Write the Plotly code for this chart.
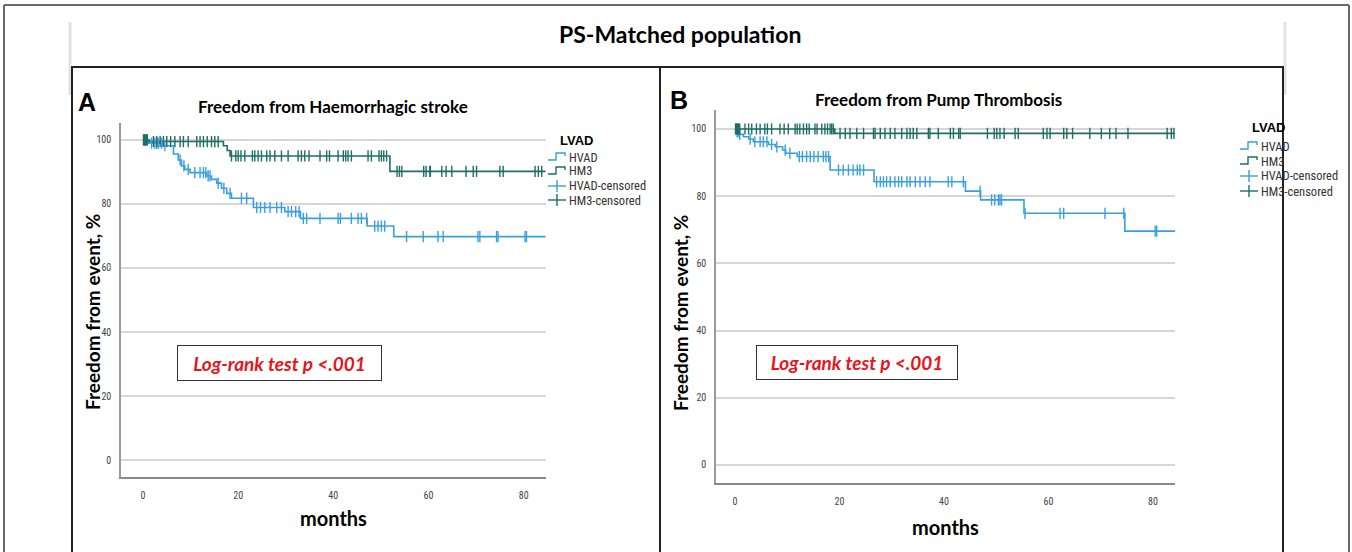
import numpy as np
import plotly.graph_objects as go

W, H = 1352, 552

# ---------------- data ----------------
# Panel A: Freedom from Haemorrhagic stroke
a_hvad_t = [0, 1.2, 4.0, 6.4, 7.4, 8.1, 8.8, 9.9, 13.4, 14.4, 15.5, 16.5, 17.6, 18.6, 23.2, 29.8, 33.1, 47.1, 52.7, 84.6]
a_hvad_s = [100, 99.0, 98.2, 95.6, 93.75, 91.9, 90.8, 89.8, 88.75, 87.7, 86.5, 84.9, 83.3, 81.8, 78.9, 77.6, 75.5, 73.1, 69.8, 69.8]
a_hm3_t = [0, 1.3, 16.9, 17.7, 18.3, 51.9, 84.6]
a_hm3_s = [100, 99.5, 98.2, 96.7, 95.0, 90.2, 90.2]
a_hvad_cens = [0.2, 0.5, 0.8, 1.8, 2.5, 2.9, 3.2, 3.9, 4.6, 7.8, 8.6, 9.5, 10.9, 12.0, 12.7, 13.2, 13.7, 14.1,
               15.8, 17.0, 18.3, 20.7, 21.8, 23.9, 24.7, 25.6, 26.7, 28.1, 29.1, 30.5, 31.2, 32.1, 32.8, 33.7,
               34.4, 37.2, 41.0, 41.5, 43.8, 45.2, 45.9, 47.0, 48.7, 49.4, 50.1, 50.8, 55.4, 58.9, 62.0, 63.1,
               70.4, 70.8, 74.3, 74.6, 80.3, 80.6]
a_hm3_cens = [0.1, 0.3, 0.5, 0.7, 0.9, 2.2, 2.9, 3.6, 4.3, 5.0, 5.8, 6.7, 7.8, 8.5, 9.5, 11.3, 12.0, 12.7, 13.5,
              14.4, 15.1, 15.8, 18.6, 19.5, 20.0, 20.6, 21.4, 23.0, 23.5, 24.2, 24.9, 26.0, 26.7, 27.7, 29.1,
              30.5, 32.6, 33.3, 34.0, 34.9, 37.2, 38.6, 39.2, 41.0, 42.1, 42.6, 43.1, 43.8, 47.3, 48.0, 49.6,
              50.1, 50.6, 51.2, 53.4, 53.9, 54.4, 59.0, 59.5, 60.3, 60.4, 62.8, 63.7, 64.9, 67.9, 69.4, 70.1,
              75.0, 75.7, 82.4, 83.1, 83.8]

# Panel B: Freedom from Pump Thrombosis
b_hvad_t = [0, 0.3, 0.8, 1.6, 2.6, 3.5, 6.4, 7.7, 9.1, 9.7, 11.9, 18.2, 26.6, 44.1, 47.0, 55.3, 74.6, 84.2]
b_hvad_s = [100, 99.2, 98.4, 97.7, 97.0, 96.2, 95.4, 94.7, 93.75, 92.8, 91.8, 87.8, 84.3, 81.5, 78.9, 74.9, 69.6, 69.6]
b_hm3_t = [0, 19.1, 84.2]
b_hm3_s = [100, 98.7, 98.7]
b_hvad_cens = [0.2, 0.4, 0.6, 0.9, 2.9, 3.8, 4.8, 5.4, 6.1, 7.0, 8.0, 9.6, 10.5, 12.3, 12.9, 13.7, 14.4, 15.1,
               15.9, 16.9, 17.4, 17.9, 19.8, 20.7, 21.7, 22.6, 23.4, 23.9, 24.6, 27.1, 27.8, 28.4, 29.0, 29.7,
               30.6, 31.3, 31.9, 32.9, 33.5, 34.5, 35.4, 36.4, 37.3, 40.8, 41.5, 43.7, 46.9, 49.1, 49.7, 50.4,
               50.7, 51.0, 55.5, 62.2, 62.9, 70.8, 74.4, 80.4, 80.7]
b_hm3_cens = [0.1, 0.3, 0.5, 0.7, 0.9, 1.9, 2.6, 3.2, 4.1, 4.8, 5.7, 6.2, 7.0, 8.6, 9.4, 10.2, 11.5, 11.9, 12.4,
              13.1, 13.7, 14.2, 15.3, 15.7, 16.6, 17.2, 17.7, 18.2, 18.5, 18.8, 20.1, 21.1, 22.0, 23.3, 24.6,
              26.5, 26.8, 27.8, 28.7, 29.7, 30.6, 31.9, 32.9, 33.5, 34.1, 34.8, 37.0, 37.3, 38.9, 41.2, 41.8,
              42.8, 43.1, 48.3, 49.6, 50.1, 50.7, 51.5, 53.6, 54.2, 59.0, 59.7, 60.3, 62.9, 63.5, 64.6, 67.9,
              70.1, 71.7, 72.9, 75.2, 82.7, 83.5, 84.0]

x_ticks = [0, 20, 40, 60, 80]
y_ticks = [0, 20, 40, 60, 80, 100]
series_names = ["HVAD", "HM3", "HVAD-censored", "HM3-censored"]

# ---------------- styling ----------------
C_HVAD = "#3A9FDF"
C_HM3 = "#1F6E66"
GRID = "#D6D6D6"
NARROW = "Liberation Sans Narrow, Arial Narrow, Roboto Condensed, Liberation Sans, Arial"


def px_x(p):
    return p / W


def px_y(p):
    return 1 - p / H


def step_value(t, s, q):
    t = np.asarray(t)
    s = np.asarray(s)
    idx = np.searchsorted(t, np.asarray(q), side="right") - 1
    idx = np.clip(idx, 0, len(s) - 1)
    return s[idx]


fig = go.Figure()

panels = [
    dict(xa="x", ya="y", t1=a_hvad_t, s1=a_hvad_s, t2=a_hm3_t, s2=a_hm3_s, c1=a_hvad_cens, c2=a_hm3_cens),
    dict(xa="x2", ya="y2", t1=b_hvad_t, s1=b_hvad_s, t2=b_hm3_t, s2=b_hm3_s, c1=b_hvad_cens, c2=b_hm3_cens),
]

for p in panels:
    fig.add_trace(go.Scatter(x=p["t1"], y=p["s1"], mode="lines", line=dict(color=C_HVAD, width=1.6, shape="hv"),
                             xaxis=p["xa"], yaxis=p["ya"], name=series_names[0], showlegend=False))
    fig.add_trace(go.Scatter(x=p["t2"], y=p["s2"], mode="lines", line=dict(color=C_HM3, width=1.6, shape="hv"),
                             xaxis=p["xa"], yaxis=p["ya"], name=series_names[1], showlegend=False))
    fig.add_trace(go.Scatter(x=p["c1"], y=step_value(p["t1"], p["s1"], p["c1"]), mode="markers",
                             marker=dict(symbol="line-ns", size=8, line=dict(color=C_HVAD, width=1.4)),
                             xaxis=p["xa"], yaxis=p["ya"], name=series_names[2], showlegend=False))
    fig.add_trace(go.Scatter(x=p["c2"], y=step_value(p["t2"], p["s2"], p["c2"]), mode="markers",
                             marker=dict(symbol="line-ns", size=8, line=dict(color=C_HM3, width=1.4)),
                             xaxis=p["xa"], yaxis=p["ya"], name=series_names[3], showlegend=False))

axis_common = dict(showgrid=False, zeroline=False, showline=True, ticks="", fixedrange=True,
                   tickfont=dict(family=NARROW, size=10, color="#444"))
yaxis_common = dict(showgrid=True, gridcolor=GRID, gridwidth=2, zeroline=False, showline=True,
                    linecolor="#9A9A9A", linewidth=1.5, ticks="", tickvals=y_ticks, ticklabelstandoff=6,
                    tickfont=dict(family=NARROW, size=10, color="#444"), fixedrange=True)

fig.update_layout(
    width=W, height=H, margin=dict(l=0, r=0, t=0, b=0),
    paper_bgcolor="white", plot_bgcolor="white", showlegend=False,
    xaxis=dict(**axis_common, domain=[px_x(121), px_x(546)], range=[-4.62, 84.7], tickvals=x_ticks,
               linecolor="#8A8A8A", linewidth=2, anchor="y", ticklabelstandoff=8),
    yaxis=dict(**yaxis_common, domain=[px_y(477), px_y(123)], range=[-5.3, 105.3], anchor="x"),
    xaxis2=dict(**axis_common, domain=[px_x(716), px_x(1175)], range=[-3.64, 84.2], tickvals=x_ticks,
                linecolor="#8A8A8A", linewidth=2, anchor="y2", ticklabelstandoff=8),
    yaxis2=dict(**yaxis_common, domain=[px_y(483), px_y(110)], range=[-5.36, 105.65], anchor="x2"),
)

shapes = []
# outer frame
shapes.append(dict(type="line", xref="paper", yref="paper", x0=px_x(4), x1=px_x(1349), y0=px_y(5), y1=px_y(5),
                   line=dict(color="#6A6A6A", width=2)))
shapes.append(dict(type="line", xref="paper", yref="paper", x0=px_x(4), x1=px_x(4), y0=px_y(5), y1=px_y(552),
                   line=dict(color="#6A6A6A", width=2)))
shapes.append(dict(type="line", xref="paper", yref="paper", x0=px_x(1349), x1=px_x(1349), y0=px_y(5), y1=px_y(552),
                   line=dict(color="#6A6A6A", width=2)))
for xx in (70, 1285):
    shapes.append(dict(type="line", xref="paper", yref="paper", x0=px_x(xx), x1=px_x(xx), y0=px_y(22), y1=px_y(95),
                       line=dict(color="#E2E2E2", width=3)))
# panel boxes
shapes.append(dict(type="rect", xref="paper", yref="paper", x0=px_x(72), x1=px_x(660), y0=px_y(67), y1=px_y(560),
                   line=dict(color="#222", width=2)))
shapes.append(dict(type="rect", xref="paper", yref="paper", x0=px_x(660), x1=px_x(1283), y0=px_y(67), y1=px_y(560),
                   line=dict(color="#222", width=2)))

annotations = []


def ann(x, y, text, size, bold=False, italic=False, color="#000", family="Lato", angle=0, xanchor="center", **kw):
    t = text
    if bold:
        t = "<b>" + t + "</b>"
    if italic:
        t = "<i>" + t + "</i>"
    d = dict(xref="paper", yref="paper", x=px_x(x), y=px_y(y), text=t, showarrow=False,
             font=dict(family=family, size=size, color=color), textangle=angle,
             xanchor=xanchor, yanchor="middle")
    d.update(kw)
    annotations.append(d)


ann(680, 34, "PS-Matched population", 23, bold=True)
ann(87, 102, "A", 25, bold=True, family="Liberation Sans, Arial")
ann(679, 100, "B", 25, bold=True, family="Liberation Sans, Arial")
ann(333, 107, "Freedom from Haemorrhagic stroke", 17, bold=True)
ann(938, 99, "Freedom from Pump Thrombosis", 17, bold=True)
ann(92, 312, "Freedom from event, %", 19, bold=True, angle=-90)
ann(680, 313, "Freedom from event, %", 19, bold=True, angle=-90)
ann(333, 518, "months", 20, bold=True)
ann(945, 527, "months", 20, bold=True)

# log-rank boxes
for cx, cy, w, h in ((279.5, 363, 203, 34), (857, 362.5, 200, 33)):
    annotations.append(dict(xref="paper", yref="paper", x=px_x(cx), y=px_y(cy), showarrow=False,
                            text="<b><i>Log-rank test p &lt;.001</i></b>",
                            font=dict(family="Lato", size=19, color="#E8141B"),
                            width=w - 2, height=h - 2, bordercolor="#333", borderwidth=1, bgcolor="white",
                            xanchor="center", yanchor="middle", align="center", valign="middle"))

# legends
for lx, ly_title, rows in ((548, 140, (157, 171, 186, 200)), (1240, 127, (146, 161, 176, 191))):
    ann(lx + 28, ly_title, "LVAD", 13, bold=True, family="Liberation Sans, Arial")
    colors = [C_HVAD, C_HM3, C_HVAD, C_HM3]
    for i, (name, ry) in enumerate(zip(series_names, rows)):
        ann(lx + 19, ry, name, 12.5, family=NARROW, xanchor="left", color="#333")
        col = colors[i]
        if i < 2:
            path = ("M {} {} L {} {} L {} {} L {} {} L {} {}").format(
                px_x(lx), px_y(ry + 3), px_x(lx + 8), px_y(ry + 3), px_x(lx + 8), px_y(ry - 4),
                px_x(lx + 17), px_y(ry - 4), px_x(lx + 17), px_y(ry - 1))
            shapes.append(dict(type="path", xref="paper", yref="paper", path=path,
                               line=dict(color=col, width=1.4)))
        else:
            shapes.append(dict(type="line", xref="paper", yref="paper", x0=px_x(lx), x1=px_x(lx + 18),
                               y0=px_y(ry), y1=px_y(ry), line=dict(color=col, width=1.4)))
            shapes.append(dict(type="line", xref="paper", yref="paper", x0=px_x(lx + 9), x1=px_x(lx + 9),
                               y0=px_y(ry - 6), y1=px_y(ry + 6), line=dict(color=col, width=1.4)))

fig.update_layout(shapes=shapes, annotations=annotations)
fig.write_html("out.html", config={"displayModeBar": False, "staticPlot": False},
               post_script="document.body.style.margin='0px';document.body.style.overflow='hidden';")
